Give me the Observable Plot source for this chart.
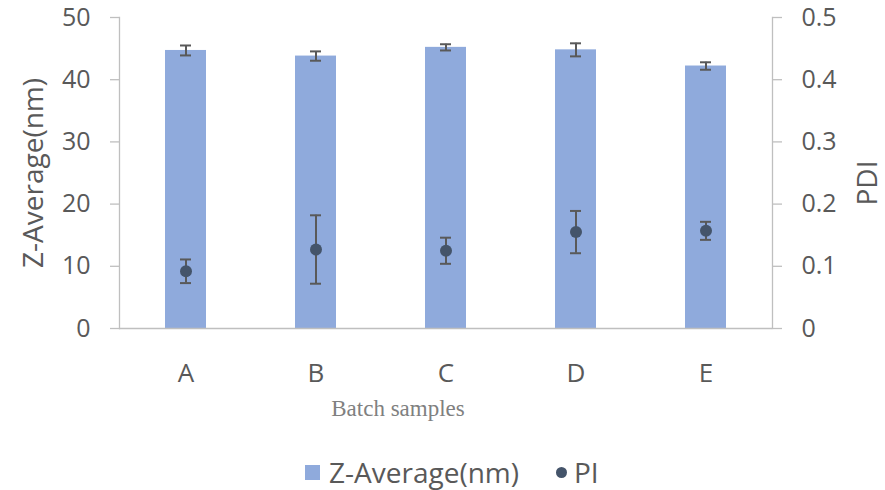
<!DOCTYPE html>
<html>
<head>
<meta charset="utf-8">
<script src="https://cdn.jsdelivr.net/npm/d3@7"></script>
<script src="https://cdn.jsdelivr.net/npm/@observablehq/plot@0.6"></script>
<style>
  html, body { margin: 0; padding: 0; background: #fff; }
  #wrap { position: relative; width: 885px; height: 490px; font-family: "Open Sans", sans-serif; }
  #legend { position: absolute; left: 305px; top: 455px; height: 34px; line-height: 34px; display: flex; align-items: center; color: #595959; font-size: 28px; white-space: nowrap; }
  .sw { display: inline-block; width: 15px; height: 15px; background: #8faadc; margin-right: 9px; }
  .dot { display: inline-block; width: 11px; height: 11px; border-radius: 50%; background: #44546a; margin-left: 37px; margin-right: 7px; }
</style>
</head>
<body>
<div id="wrap">
  <div id="chart"></div>
  <div id="legend"><span class="sw"></span><span>Z-Average(nm)</span><span class="dot"></span><span>PI</span></div>
</div>
<script>
const categories = ["A", "B", "C", "D", "E"];
const zAverage = [44.7, 43.8, 45.2, 44.8, 42.2];
const zError = [0.8, 0.75, 0.5, 1.05, 0.6];
const piValues = [0.092, 0.127, 0.125, 0.155, 0.157];
const piError = [0.019, 0.055, 0.021, 0.034, 0.0145];
const leftTicks = [0, 10, 20, 30, 40, 50];
const rightTicks = [0, 0.1, 0.2, 0.3, 0.4, 0.5];

const k = 50 / 0.5; // right axis (PDI) mapped onto left axis range

const rows = categories.map((c, i) => ({
  cat: c,
  z: zAverage[i],
  zLo: zAverage[i] - zError[i],
  zHi: zAverage[i] + zError[i],
  pi: piValues[i] * k,
  piLo: (piValues[i] - piError[i]) * k,
  piHi: (piValues[i] + piError[i]) * k
}));

const axisGray = "#bfbfbf";
const textGray = "#595959";
const errGray = "#595959";

const chart = Plot.plot({
  width: 885,
  height: 450,
  marginLeft: 119,
  marginRight: 113,
  marginTop: 17,
  marginBottom: 122,
  style: { fontFamily: "Open Sans", fontSize: "25px", color: textGray, background: "white", overflow: "visible" },
  x: { domain: categories, paddingInner: 0.686, paddingOuter: 0.343, align: 0.5, axis: null },
  y: { domain: [0, 50], axis: null },
  marks: [
    Plot.barY(rows, { x: "cat", y: "z", fill: "#8faadc" }),
    Plot.ruleY([0], { stroke: axisGray, strokeWidth: 1.3 }),
    Plot.frame({ anchor: "left", stroke: axisGray, strokeWidth: 1.3 }),
    Plot.frame({ anchor: "right", stroke: axisGray, strokeWidth: 1.3 }),
    Plot.axisY({ anchor: "left", ticks: leftTicks, tickSize: 9, tickPadding: 20, stroke: axisGray, strokeWidth: 1.3, fill: textGray, fontSize: 25, label: null }),
    Plot.axisY({ anchor: "right", ticks: rightTicks.map(v => v * k), tickFormat: d => String(+(d / k).toFixed(2)), tickSize: 9, tickPadding: 20, stroke: axisGray, strokeWidth: 1.3, fill: textGray, fontSize: 25, label: null }),
    // Z-average error bars
    Plot.ruleX(rows, { x: "cat", y1: "zLo", y2: "zHi", stroke: errGray, strokeWidth: 2 }),
    Plot.tickY(rows, { x: "cat", y: "zLo", stroke: errGray, strokeWidth: 2, insetLeft: 15, insetRight: 15 }),
    Plot.tickY(rows, { x: "cat", y: "zHi", stroke: errGray, strokeWidth: 2, insetLeft: 15, insetRight: 15 }),
    // PI error bars
    Plot.ruleX(rows, { x: "cat", y1: "piLo", y2: "piHi", stroke: errGray, strokeWidth: 2 }),
    Plot.tickY(rows, { x: "cat", y: "piLo", stroke: errGray, strokeWidth: 2, insetLeft: 15, insetRight: 15 }),
    Plot.tickY(rows, { x: "cat", y: "piHi", stroke: errGray, strokeWidth: 2, insetLeft: 15, insetRight: 15 }),
    Plot.dot(rows, { x: "cat", y: "pi", r: 6, fill: "#44546a", stroke: "none" }),
    // category labels
    Plot.text(categories, { x: d => d, frameAnchor: "bottom", dy: 45, lineAnchor: "middle", fill: textGray, fontSize: 26 }),
    // axis titles
    Plot.text(["Z-Average(nm)"], { frameAnchor: "left", dx: -85, rotate: -90, textAnchor: "middle", lineAnchor: "middle", fill: textGray, fontSize: 28 }),
    Plot.text(["PDI"], { frameAnchor: "right", dx: 96, dy: 10, rotate: -90, textAnchor: "middle", lineAnchor: "middle", fill: textGray, fontSize: 28 }),
    Plot.text(["Batch samples"], { frameAnchor: "bottom", dx: -48, dy: 80, lineAnchor: "middle", fill: "#808080", fontSize: 23, fontFamily: "Liberation Serif" })
  ]
});
document.getElementById("chart").appendChild(chart);
</script>
</body>
</html>
